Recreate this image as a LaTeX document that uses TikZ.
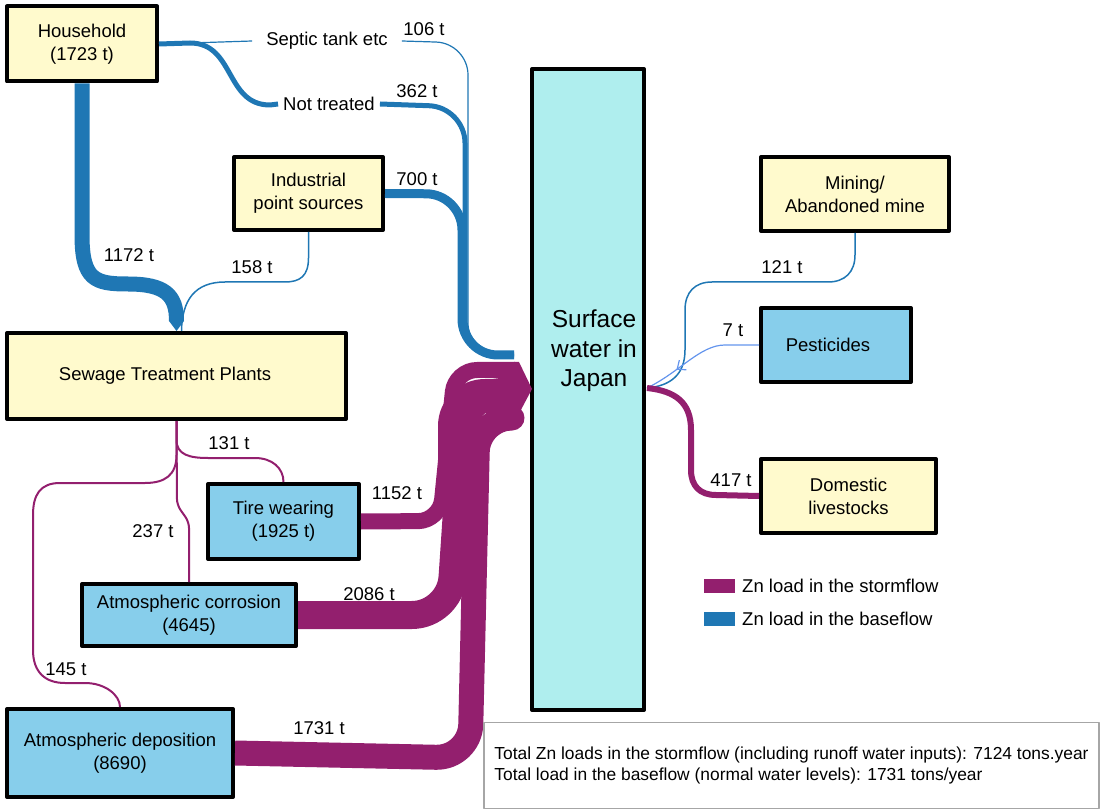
\documentclass[tikz,border=0pt]{standalone}
\usepackage{fontspec}
\setmainfont{Liberation Sans}
\usepackage{tikz}
\usetikzlibrary{arrows.meta}
\usetikzlibrary{decorations.markings}
\definecolor{stormc}{HTML}{931F6E}
\definecolor{basec}{HTML}{1F77B4}
\definecolor{pestc}{HTML}{6495ED}
\definecolor{lemon}{HTML}{FFFACD}
\definecolor{sky}{HTML}{87CEEB}
\definecolor{water}{HTML}{AFEEEE}

\begin{document}
\begin{tikzpicture}[x=1pt,y=-1pt,line join=round,
    txt/.style={font=\fontsize{18.5}{23}\selectfont},
    yellowbox/.style={txt,draw=black,line width=4pt,fill=lemon,align=center,inner sep=0pt},
    bluebox/.style={yellowbox,fill=sky},
    lbl/.style={txt,inner sep=0pt},
    storm/.style={draw=stormc},
    base/.style={draw=basec},
    tip/.style={-{Triangle[length=10pt,width=#1,line width=0pt]}}]
        \useasboundingbox (0,0) rectangle (1101,810);
        % sources and sinks
        \node[yellowbox, minimum width=150pt, minimum height=75pt] (hh) at (82,44) {Household\\(1723 t)};
        \node[yellowbox, minimum width=339pt, minimum height=86pt] (stp) at (176.5,376) {Sewage Treatment Plants\hspace*{23pt}};
        \node[yellowbox, minimum width=149pt, minimum height=73pt] (ind) at (308.5,193.5) {Industrial\\point sources};
        \node[draw=black, line width=4pt, fill=water, minimum width=112pt, minimum height=641pt] (sw) at (588,389.5) {};
        \node[font=\fontsize{24.5}{29.5}\selectfont, align=center, inner sep=0pt] (swtxt) at (594,351) {Surface\\water in\\Japan};
        \node[yellowbox, minimum width=188pt, minimum height=74pt] (mine) at (855,194) {Mining/\\Abandoned mine};
        \node[bluebox, minimum width=150pt, minimum height=74pt] (pest) at (836,345) {Pesticides\hspace*{16pt}};
        \node[yellowbox, minimum width=175pt, minimum height=74pt] (live) at (848.5,496) {Domestic\\livestocks};
        \node[bluebox, minimum width=151pt, minimum height=75pt] (tire) at (283.5,521.5) {Tire wearing\\(1925 t)};
        \node[bluebox, minimum width=214pt, minimum height=62pt] (corr) at (189,615) {Atmospheric corrosion\\(4645)};
        \node[bluebox, minimum width=226pt, minimum height=88pt] (dep) at (120,753) {Atmospheric deposition\\(8690)};
        \coordinate (blueIn) at (514,355);
        \coordinate (swOut) at (647,388);
        \coordinate (stormM) at (455,478);

        % labels on the flows
        \node[lbl, inner xsep=14pt] (septic) at (327,41) {Septic tank etc};
        \node[lbl, inner xsep=5pt] (nottr) at (329,104) {Not treated};
        \node[lbl] (l106) at (424,29) {106 t};
        \node[lbl] (l362) at (417,91) {362 t};
        \node[lbl] (l700) at (417,179) {700 t};
        \node[lbl] (l1172) at (129,255) {1172 t};
        \node[lbl] (l158) at (252,267) {158 t};
        \node[lbl] (l131) at (229,443) {131 t};
        \node[lbl] (l237) at (153,531) {237 t};
        \node[lbl] (l145) at (66,669) {145 t};
        \node[lbl] (l1152) at (397,493) {1152 t};
        \node[lbl] (l2086) at (369,594) {2086 t};
        \node[lbl] (l1731) at (319,728) {1731 t};
        \node[lbl] (l121) at (782,267) {121 t};
        \node[lbl] (l7) at (733,330) {7 t};
        \node[lbl] (l417) at (731,480) {417 t};

        % baseflow
        \draw[base, line width=1.2pt] (hh.east) -- (septic.west);
        \draw[base, line width=1.2pt, rounded corners=32pt] (septic.east) -- (468,43) -- (468,355) -- (blueIn);
        \draw[base, line width=5pt] (hh.east) -- (190,43) .. controls (235,43) and (225,105) .. (270,105) -- (nottr.west);
        \draw[base, line width=5pt, rounded corners=36pt] (nottr.east) -- (465,107) -- (465,355) -- (blueIn);
        \draw[base, line width=9pt, rounded corners=36pt] (ind.east) -- (462,194) -- (462,355) -- (blueIn);
        \draw[base, line width=15pt, tip=15pt] (hh.south) -- (82,235) .. controls (82,280) and (95,284) .. (128,284) .. controls (165,284) and (176.5,295) .. (stp.north);
        \draw[base, line width=1.5pt] (ind.south) -- (308.5,258) .. controls (308.5,276) and (300,282) .. (285,282) -- (225,282) .. controls (195,282) and (182,300) .. ([xshift=5pt]stp.north);
        \draw[base, line width=1.5pt] (mine.south) -- (855,255) .. controls (855,272) and (845,282) .. (828,282) -- (712,282) .. controls (695,282) and (685,292) .. (685,310) -- (685,350) .. controls (685,375) and (670,386) .. (swOut);
        \draw[pestc, line width=1.2pt, postaction={decorate}, decoration={markings, mark=at position 0.72 with {\arrow{Straight Barb[length=7pt,width=12pt]}}}] (pest.west) -- (725,345) .. controls (700,345) and (680,372) .. (swOut);

        % stormflow
        \draw[storm, line width=2pt] (stp.south) -- (176.5,440) .. controls (176.5,455) and (190,458) .. (208,458) -- (255,458) .. controls (272,458) and (283.5,468) .. (tire.north);
        \draw[storm, line width=2pt, rounded corners=6pt] (stp.south) -- (177,505) -- (189,522) -- (corr.north);
        \draw[storm, line width=2pt] (stp.south) -- (176.5,455) .. controls (176.5,475) and (165,483) .. (145,483) -- (60,483) .. controls (40,483) and (33,495) .. (33,515) -- (33,650) .. controls (33,672) and (45,683) .. (65,683) -- (85,683) .. controls (105,683) and (120,695) .. (dep.north);
        \draw[storm, line width=34pt, rounded corners=30pt] (stormM) -- (455,396) -- (515,396);
        \draw[storm, line width=16pt, rounded corners=22pt] (tire.east) -- (440,521) -- (455,370) -- (515,370);
        \draw[storm, line width=28pt, rounded corners=38pt] (corr.east) -- (450,615) -- (465,392) -- (515,392);
        \draw[storm, line width=25pt, rounded corners=34pt] (dep.east) -- (470,758) -- (478,418) -- (508,418);
        \fill[stormc] (514,362) -- (519,362) -- (532,389) -- (510,430.5) -- (505,430.5) -- cycle;
        \draw[storm, line width=6pt] (swOut) .. controls (675,391) and (691,402) .. (691,430) -- (691,470) .. controls (691,486) and (700,495) .. (716,495) -- (live.west);

        % key and totals
        \node[fill=stormc, minimum width=31pt, minimum height=14pt, inner sep=0pt] (keyS) at (719.5,586) {};
        \node[lbl, anchor=west] (legS) at (742,586) {Zn load in the stormflow};
        \node[fill=basec, minimum width=31pt, minimum height=14pt, inner sep=0pt] (keyB) at (719.5,619) {};
        \node[lbl, anchor=west] (legB) at (742,619) {Zn load in the baseflow};
        \node[draw=gray!70, line width=1.2pt, minimum width=615pt, minimum height=86pt, align=left, font=\fontsize{17.4}{21}\selectfont] (total) at (791.5,765.5) {Total Zn loads in the stormflow (including runoff water inputs): 7124 tons.year\\Total load in the baseflow (normal water levels): 1731 tons/year};
      \end{tikzpicture}
\end{document}
